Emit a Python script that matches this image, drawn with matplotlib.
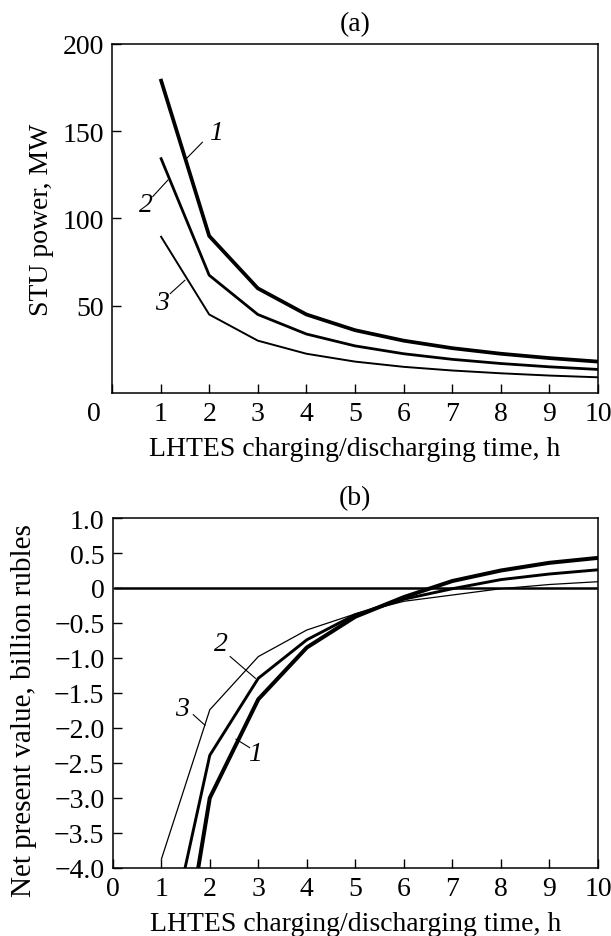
import matplotlib
matplotlib.use("Agg")
import matplotlib.pyplot as plt
import matplotlib.transforms as mtransforms

plt.rcParams['font.family'] = ['Liberation Serif', 'DejaVu Serif']
plt.rcParams['font.size'] = 20
plt.rcParams['axes.unicode_minus'] = True

# charging/discharging time, h
hours = [1, 2, 3, 4, 5, 6, 7, 8, 9, 10]

# (a) STU power, MW
power_1 = [180, 90, 60, 45, 36, 30, 25.7, 22.5, 20, 18]
power_2 = [135, 67.5, 45, 33.8, 27, 22.5, 19.3, 16.9, 15, 13.5]
power_3 = [90, 45, 30, 22.5, 18, 15, 12.9, 11.3, 10, 9]

# (b) net present value, billion rubles (first points run below the axis)
npv_1 = [-7.2, -3.0, -1.59, -0.85, -0.41, -0.13, 0.10, 0.25, 0.36, 0.43]
npv_2 = [-5.55, -2.39, -1.29, -0.74, -0.38, -0.16, -0.01, 0.12, 0.20, 0.26]
npv_3 = [-3.88, -1.74, -0.98, -0.60, -0.37, -0.19, -0.10, -0.01, 0.05, 0.09]

power_ticks = [50, 100, 150, 200]
npv_ticks = [-4.0, -3.5, -3.0, -2.5, -2.0, -1.5, -1.0, -0.5, 0, 0.5, 1.0]
npv_ticklabels = ["\u22124.0", "\u22123.5", "\u22123.0", "\u22122.5", "\u22122.0",
                  "\u22121.5", "\u22121.0", "\u22120.5", "0", "0.5", "1.0"]

xlabel = "LHTES charging/discharging time, h"

fig = plt.figure(figsize=(6.11, 9.37), dpi=100)
ax1 = fig.add_axes([0.1833, 0.5795, 0.7954, 0.3725])
ax2 = fig.add_axes([0.1845, 0.0726, 0.7942, 0.3735])


def style(ax):
    for s in ax.spines.values():
        s.set_linewidth(1.1)
    ax.tick_params(direction="in", length=6.5, width=1.0, pad=6,
                   top=False, right=False)


# ---- panel (a)
for ys, lw in zip([power_1, power_2, power_3], [2.7, 2.0, 1.4]):
    ax1.plot(hours, ys, color="black", lw=lw, solid_capstyle="butt")
ax1.set_xlim(0, 10)
ax1.set_ylim(0, 200)
ax1.set_xticks(range(0, 11))
ax1.set_yticks(power_ticks)
style(ax1)
# origin label sits left of the axis corner
lab0 = ax1.get_xticklabels()[0]
lab0.set_transform(lab0.get_transform() +
                   mtransforms.ScaledTranslation(-0.18, 0, fig.dpi_scale_trans))
ax1.set_ylabel("STU power, MW", labelpad=6)
ax1.set_xlabel(xlabel, labelpad=7)
ax1.set_title("(a)", fontsize=20, pad=10)

for txt, (tx, ty), (x0, y0), (x1, y1) in [
        ("1", (2.14, 149), (1.86, 143.7), (1.52, 134)),
        ("2", (0.70, 107.8), (0.84, 112.6), (1.15, 122)),
        ("3", (1.02, 52), (1.20, 57), (1.50, 64.6))]:
    ax1.plot([x0, x1], [y0, y1], color="black", lw=0.8)
    ax1.text(tx, ty, txt, style="italic", ha="center", va="center", fontsize=20)

# ---- panel (b)
for ys, lw in zip([npv_1, npv_2, npv_3], [2.9, 2.1, 0.9]):
    ax2.plot(hours, ys, color="black", lw=lw, solid_capstyle="butt")
ax2.plot([0.05, 9.95], [0, 0], color="black", lw=1.8)
ax2.set_xlim(0, 10)
ax2.set_ylim(-4.0, 1.0)
ax2.set_xticks(range(0, 11))
ax2.set_yticks(npv_ticks)
ax2.set_yticklabels(npv_ticklabels)
style(ax2)
ax2.set_ylabel("Net present value, billion rubles", fontsize=21)
ax2.yaxis.set_label_coords(-0.156, 0.454)
ax2.set_xlabel(xlabel, labelpad=7)
ax2.set_title("(b)", fontsize=20, pad=10)

for txt, (tx, ty), (x0, y0), (x1, y1) in [
        ("2", (2.22, -0.79), (2.42, -0.98), (2.94, -1.29)),
        ("3", (1.42, -1.72), (1.66, -1.81), (1.90, -1.96)),
        ("1", (2.94, -2.36), (2.82, -2.28), (2.54, -2.16))]:
    ax2.plot([x0, x1], [y0, y1], color="black", lw=0.8)
    ax2.text(tx, ty, txt, style="italic", ha="center", va="center", fontsize=20)

fig.savefig("out.png", dpi=100)
